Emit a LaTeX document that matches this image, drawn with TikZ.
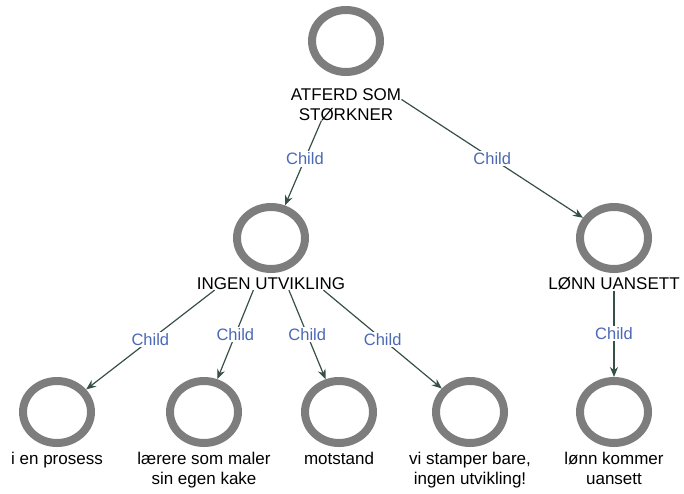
\documentclass[tikz,border=0pt]{standalone}
\usepackage{fontspec}
\setmainfont{Liberation Sans}
\usepackage{xcolor}
\usepackage{tikz}
\usetikzlibrary{positioning,arrows.meta,fit,shapes.geometric}
\definecolor{ringgray}{RGB}{125,125,125}
\definecolor{edgegreen}{RGB}{55,80,70}
\definecolor{childblue}{RGB}{75,105,180}
\tikzset{
  ring/.style ={draw=ringgray, ellipse, line width=8pt, minimum width=68pt, minimum height=62pt, inner sep=0pt},
  txt/.style  ={align=center, inner sep=0pt, font=\fontsize{17}{20}\selectfont},
  grp/.style  ={inner sep=0pt},
  arr/.style  ={draw=edgegreen, line width=1.2pt, -{Stealth[length=10pt,width=8pt]}},
  lbl/.style  ={fill=white, text=childblue, inner sep=1.5pt, font=\fontsize{16.5}{20}\selectfont},
}
\begin{document}
\begin{tikzpicture}[x=1pt, y=-1pt]
  \useasboundingbox (0,0) rectangle (684,493);

  % root
  \node[ring] (cAtferd) at (346,41) {};
  \node[txt, below=12pt of cAtferd] (tAtferd) {ATFERD SOM\\STØRKNER};
  \node[grp, fit=(cAtferd)(tAtferd)] (gAtferd) {};

  % second level
  \node[ring] (cIngen) at (271,238) {};
  \node[txt, below=4.5pt of cIngen] (tIngen) {INGEN UTVIKLING};
  \node[grp, fit=(cIngen)(tIngen)] (gIngen) {};

  \node[ring] (cLonn) at (614,238) {};
  \node[txt, below=4.5pt of cLonn] (tLonn) {LØNN UANSETT};
  \node[grp, fit=(cLonn)(tLonn)] (gLonn) {};

  % leaves
  \node[ring] (cProsess) at (57,412) {};
  \node[txt, below=4.5pt of cProsess] (tProsess) {i en prosess};
  \node[ring] (cLaerere) at (204,412) {};
  \node[txt, below=4.5pt of cLaerere] (tLaerere) {lærere som maler\\sin egen kake};
  \node[ring] (cMotstand) at (339,412) {};
  \node[txt, below=4.5pt of cMotstand] (tMotstand) {motstand};
  \node[ring] (cStamper) at (470,412) {};
  \node[txt, below=4.5pt of cStamper] (tStamper) {vi stamper bare,\\ingen utvikling!};
  \node[ring] (cKommer) at (614,412) {};
  \node[txt, below=4.5pt of cKommer] (tKommer) {lønn kommer\\uansett};

  % edges
  \draw[arr] (gAtferd) -- node[lbl, pos=0.45]{Child} (cIngen);
  \draw[arr] (gAtferd) -- node[lbl]{Child} (cLonn);
  \draw[arr] (gIngen) -- node[lbl]{Child} (cProsess);
  \draw[arr] (gIngen) -- node[lbl]{Child} (cLaerere);
  \draw[arr] (gIngen) -- node[lbl]{Child} (cMotstand);
  \draw[arr] (gIngen) -- node[lbl]{Child} (cStamper);
  \draw[arr] (gLonn) -- node[lbl]{Child} (cKommer);
\end{tikzpicture}
\end{document}
